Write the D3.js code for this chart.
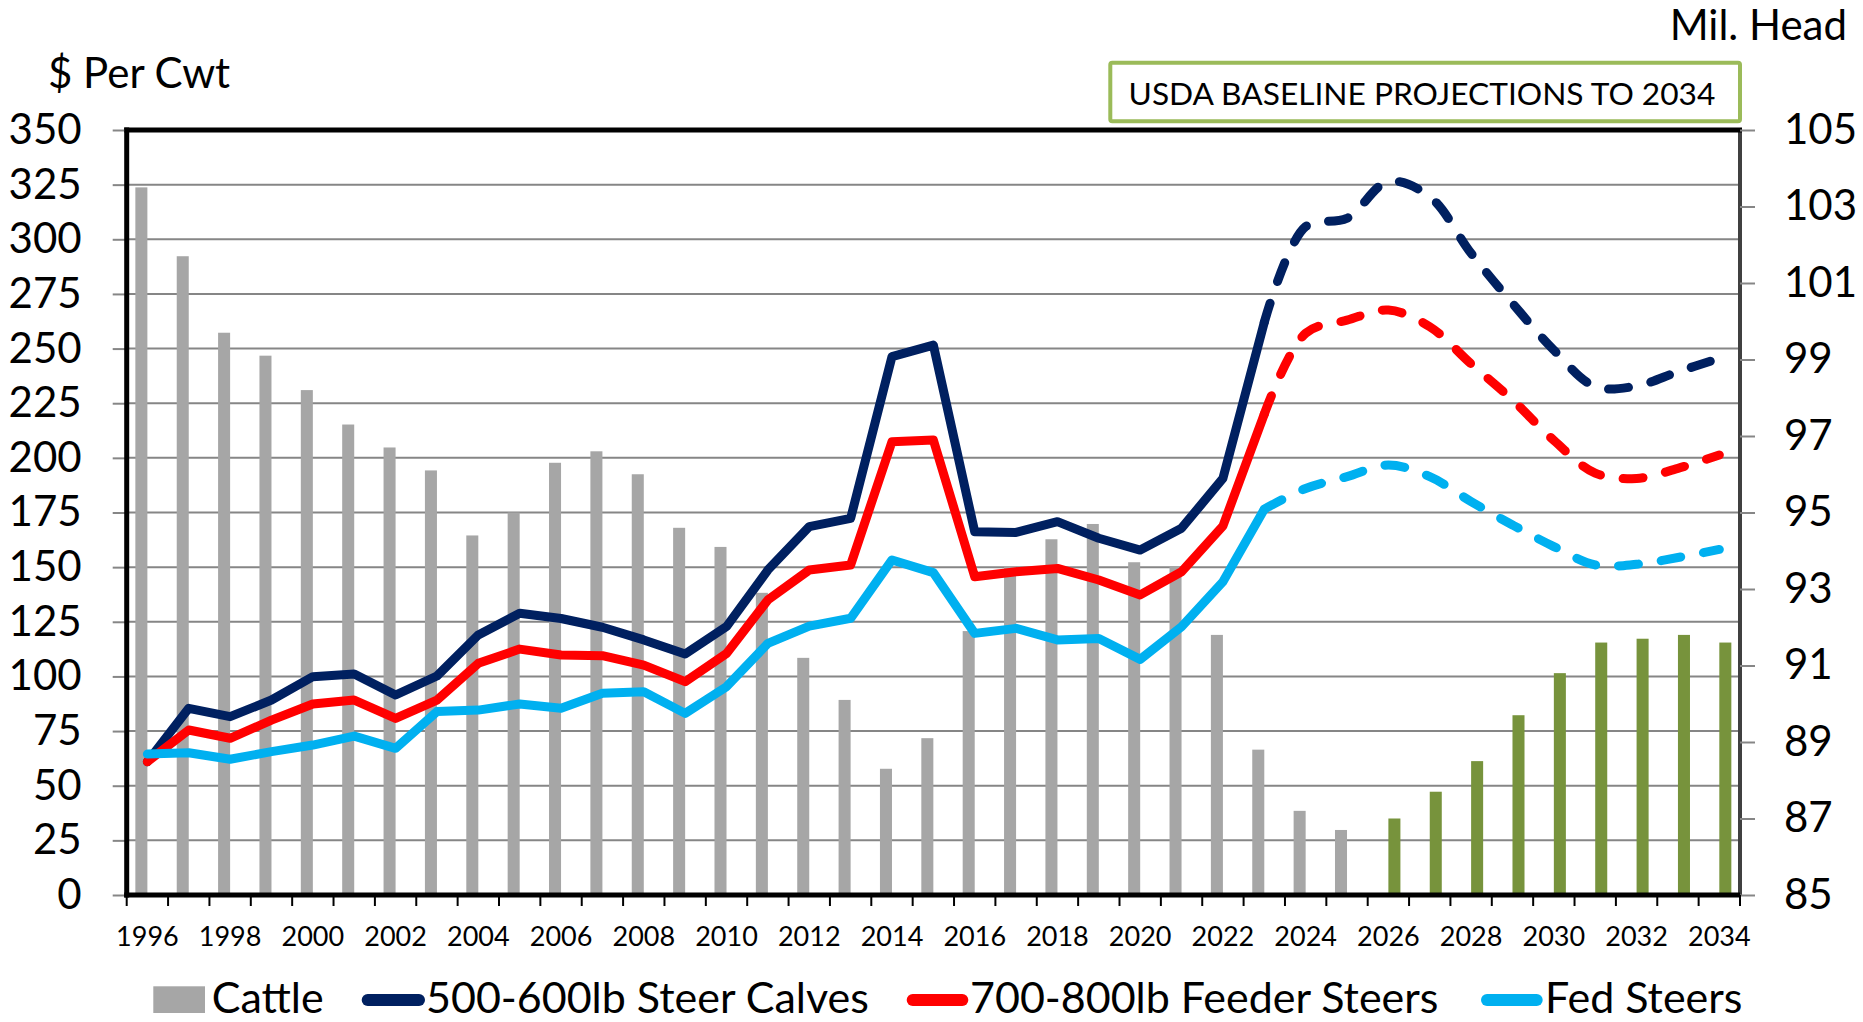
<!DOCTYPE html>
<html><head><meta charset="utf-8">
<script src="https://cdn.jsdelivr.net/npm/d3@7"></script>
<style>
html,body{margin:0;padding:0;background:#fff;}
svg{display:block;font-family:Lato,"Liberation Sans",sans-serif;}
</style></head>
<body>
<svg id="chart" width="1863" height="1022"></svg>
<script>
// ---------------- DATA ----------------
const years = ["1996","1997","1998","1999","2000","2001","2002","2003","2004","2005",
  "2006","2007","2008","2009","2010","2011","2012","2013","2014","2015",
  "2016","2017","2018","2019","2020","2021","2022","2023","2024","2025",
  "2026","2027","2028","2029","2030","2031","2032","2033","2034"];
const cattleYears = years.slice(0, 30);       // 1996-2025 (grey)
const projYears   = years.slice(30);          // 2026-2034 (green)
const cattleHist = [103.5,101.7,99.7,99.1,98.2,97.3,96.7,96.1,94.4,95.0,
  96.3,96.6,96.0,94.6,94.1,92.9,91.2,90.1,88.3,89.1,
  91.9,93.6,94.3,94.7,93.7,93.6,91.8,88.8,87.2,86.7];
const cattleProj = [87.0,87.7,88.5,89.7,90.8,91.6,91.7,91.8,91.6];

const steerCalves = [61,85.4,81.6,89.2,99.9,101.1,91.5,100.2,119,128.9,
  126.5,122.5,116.7,110.3,122.8,148.7,168.5,172.3,246.3,251.6,
  166.2,165.9,170.8,163.2,157.8,167.8,190.6,262,305.8,309.6,
  326.4,319.5,293.6,270.7,249.3,232.6,232.9,239.4,245.5];
const feederSteers = [61,75.5,71.7,80,87.4,89.2,80.8,89.2,106,112.5,
  109.8,109.5,105.2,97.6,110.5,135,148.7,151,207.4,208.2,
  145.6,147.9,149.4,144.1,137.3,147.9,168.8,220,257,263,
  267.6,260,243,226.5,208,193,190.6,195.2,201.3];
const fedSteers = [64.5,65.1,62.1,65.6,68.6,72.7,67.1,83.9,84.6,87.4,
  85.4,92.3,93,83.1,95.3,115.1,123,126.6,153.3,147.5,
  119.7,122,116.7,117.4,107.8,122.7,143.3,176.5,186,191.4,
  196.7,191.4,180,169.3,159.4,151,151.3,154.4,158.1];
const lastActualIndex = 27; // 2023: solid up to here, dashed projection after

const leftTicks  = [0,25,50,75,100,125,150,175,200,225,250,275,300,325,350];
const rightTicks = [85,87,89,91,93,95,97,99,101,103,105];
const xLabels = ["1996","1998","2000","2002","2004","2006","2008","2010","2012","2014",
  "2016","2018","2020","2022","2024","2026","2028","2030","2032","2034"];

const seriesNames = ["Cattle","500-600lb Steer Calves","700-800lb Feeder Steers","Fed Steers"];
const lineSeries = [
  {name: seriesNames[1], values: steerCalves, color: "#002060"},
  {name: seriesNames[2], values: feederSteers, color: "#FF0000"},
  {name: seriesNames[3], values: fedSteers, color: "#00B0F0"}
];
const leftTitle = "$ Per Cwt";
const rightTitle = "Mil. Head";
const boxTitle = "USDA BASELINE PROJECTIONS TO 2034";

// ---------------- LAYOUT ----------------
const svg = d3.select("#chart");
const X0 = 126.7, X1 = 1740, YT = 130, YB = 895;
const x = d3.scaleBand().domain(years).range([X0, X1]).paddingInner(0).paddingOuter(0);
const xSub = d3.scaleBand().domain(["hist","proj"]).range([0, x.bandwidth()]).paddingInner(0).paddingOuter(0.72);
const yL = d3.scaleLinear().domain([0, 350]).range([YB, YT]);
const yR = d3.scaleLinear().domain([85, 105]).range([YB, YT]);
const cx = d => x(d) + x.bandwidth() / 2;

// gridlines
svg.append("g").selectAll("line").data(leftTicks.filter(v => v > 0 && v < 350)).join("line")
  .attr("x1", X0).attr("x2", X1).attr("y1", d => yL(d)).attr("y2", d => yL(d))
  .attr("stroke", "#868686").attr("stroke-width", 2);

// bars
svg.append("g").selectAll("rect").data(cattleHist).join("rect")
  .attr("x", (d, i) => x(cattleYears[i]) + xSub("hist"))
  .attr("width", xSub.bandwidth())
  .attr("y", d => yR(d)).attr("height", d => yR(85) - yR(d))
  .attr("fill", "#A6A6A6");
svg.append("g").selectAll("rect").data(cattleProj).join("rect")
  .attr("x", (d, i) => x(projYears[i]) + xSub("proj"))
  .attr("width", xSub.bandwidth())
  .attr("y", d => yR(d)).attr("height", d => yR(85) - yR(d))
  .attr("fill", "#77933C");

// axes frame
svg.append("line").attr("x1", X1).attr("x2", X1).attr("y1", YT).attr("y2", YB)
  .attr("stroke", "#404040").attr("stroke-width", 4);
svg.append("line").attr("x1", X0 - 2.5).attr("x2", X1 + 2).attr("y1", YT).attr("y2", YT)
  .attr("stroke", "#000").attr("stroke-width", 5);

// left axis
const gL = svg.append("g").attr("transform", `translate(${X0},0)`)
  .call(d3.axisLeft(yL).tickValues(leftTicks).tickSize(14).tickPadding(31).tickFormat(d3.format("d")));
gL.select(".domain").remove();
gL.selectAll(".tick line").attr("stroke", "#868686").attr("stroke-width", 2);
gL.selectAll(".tick text").attr("font-size", 42).attr("font-family", "Lato").attr("fill", "#000");

// right axis
const gR = svg.append("g").attr("transform", `translate(${X1},0)`)
  .call(d3.axisRight(yR).tickValues(rightTicks).tickSize(15).tickPadding(29).tickFormat(d3.format("d")));
gR.select(".domain").remove();
gR.selectAll(".tick line").attr("stroke", "#868686").attr("stroke-width", 2);
gR.selectAll(".tick text").attr("font-size", 42).attr("font-family", "Lato").attr("fill", "#000");

// bottom axis labels
const gB = svg.append("g").attr("transform", `translate(0,${YB})`)
  .call(d3.axisBottom(x).tickValues(xLabels).tickSize(0).tickPadding(32));
gB.select(".domain").remove();
gB.selectAll(".tick text").attr("font-size", 27).attr("font-family", "Lato").attr("fill", "#000");
// category boundary ticks
const bounds = years.map(d => x(d)).concat([x(years[years.length - 1]) + x.bandwidth()]);
svg.append("g").selectAll("line").data(bounds).join("line")
  .attr("x1", d => d).attr("x2", d => d).attr("y1", YB).attr("y2", YB + 11)
  .attr("stroke", "#000").attr("stroke-width", 2);

svg.append("line").attr("x1", X0).attr("x2", X0).attr("y1", YT - 2.5).attr("y2", YB + 2.5)
  .attr("stroke", "#000").attr("stroke-width", 5);
svg.append("line").attr("x1", X0 - 2.5).attr("x2", X1).attr("y1", YB).attr("y2", YB)
  .attr("stroke", "#000").attr("stroke-width", 5);

// lines
const solid = d3.line().x(d => cx(d.year)).y(d => yL(d.v)).curve(d3.curveLinear);
const dashed = d3.line().x(d => cx(d.year)).y(d => yL(d.v)).curve(d3.curveCatmullRom.alpha(0.5));
const gLines = svg.append("g");
lineSeries.forEach(s => {
  const pts = s.values.map((v, i) => ({year: years[i], v}));
  gLines.append("path").attr("d", solid(pts.slice(0, lastActualIndex + 1)))
    .attr("fill", "none").attr("stroke", s.color).attr("stroke-width", 9)
    .attr("stroke-linejoin", "round").attr("stroke-linecap", "round");
  gLines.append("path").attr("d", dashed(pts.slice(lastActualIndex)))
    .attr("fill", "none").attr("stroke", s.color).attr("stroke-width", 9)
    .attr("stroke-dasharray", "20,23").attr("stroke-linecap", "round");
});

// titles
svg.append("text").attr("x", 48).attr("y", 88).attr("font-size", 42).text(leftTitle);
svg.append("text").attr("x", 1847).attr("y", 40).attr("font-size", 42).attr("text-anchor", "end").text(rightTitle);

// USDA box
svg.append("rect").attr("x", 1110.3).attr("y", 62.7).attr("width", 629.7).attr("height", 58.6)
  .attr("rx", 2).attr("fill", "#fff").attr("stroke", "#9BBB59").attr("stroke-width", 4);
svg.append("text").attr("x", 1422).attr("y", 105).attr("font-size", 31.7).attr("text-anchor", "middle").text(boxTitle);

// legend
const LY = 1013;
const lg = svg.append("g").attr("font-size", 43);
lg.append("rect").attr("x", 153.3).attr("y", LY - 26.7).attr("width", 51.7).attr("height", 26.7).attr("fill", "#A6A6A6");
lg.append("text").attr("x", 211.7).attr("y", LY).text(seriesNames[0]);
const legItems = [
  {x1: 367.7, x2: 419, tx: 426},
  {x1: 912.7, x2: 962.3, tx: 970},
  {x1: 1487, x2: 1536.7, tx: 1545}
];
lineSeries.forEach((s, i) => {
  const it = legItems[i];
  lg.append("line").attr("x1", it.x1).attr("x2", it.x2).attr("y1", LY - 13).attr("y2", LY - 13)
    .attr("stroke", s.color).attr("stroke-width", 12).attr("stroke-linecap", "round");
  lg.append("text").attr("x", it.tx).attr("y", LY).text(s.name);
});
</script>
</body></html>
